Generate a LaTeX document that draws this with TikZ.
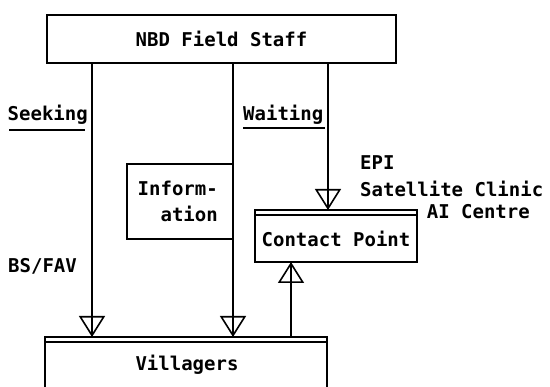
\documentclass[tikz,border=0pt]{standalone}
\usepackage{fontspec}
\setmainfont{DejaVu Sans Mono}
\usetikzlibrary{arrows.meta}
\begin{document}
\begin{tikzpicture}[x=1pt,y=-1pt,
  every node/.style={font=\fontsize{19}{22}\selectfont\bfseries, inner sep=0pt},
  boxnode/.style={draw, line width=1.6pt, rectangle},
  wire/.style={line width=1.6pt},
  tipped/.style={line width=1.6pt, -{Triangle[open, width=26pt, length=21pt, line width=1.6pt]}},
]
\useasboundingbox (0,0) rectangle (550,387);
% boxes
\node[boxnode, minimum width=349pt, minimum height=48pt] (top) at (221.5,39) {NBD Field Staff};
\node[boxnode, minimum width=106pt, minimum height=75pt] (info) at (180,201.5) {};
\node[anchor=east, align=right] (infotxt) at (218,201.5) {Inform-\\[4pt]ation};
\node[boxnode, minimum width=162pt, minimum height=52pt] (contact) at (336,236) {};
\node (contacttxt) at (336,239) {Contact Point};
\node[boxnode, minimum width=282pt, minimum height=58pt] (vill) at (186,366) {};
\node (villtxt) at (187,365) {Villagers};
% double top lines
\draw[wire] ([yshift=-6pt]contact.north west) -- ([yshift=-6pt]contact.north east);
\draw[wire] ([yshift=-6pt]vill.north west) -- ([yshift=-6pt]vill.north east);
% coordinates
\coordinate (l1) at (92,63);
\coordinate (l2) at (233,63);
\coordinate (l3) at (328,63);
\coordinate (l1e) at (92,337);
\coordinate (l2e) at (233,337);
\coordinate (l3e) at (328,210);
\coordinate (u1) at (291,337);
\coordinate (u1e) at (291,262);
% connectors
\draw[wire] (l1) -- (l1e);
\draw[tipped] (l1) -- (l1e);
\draw[wire] (l2) -- (l2e);
\draw[tipped] (l2) -- (l2e);
\draw[wire] (l3) -- (l3e);
\draw[tipped] (l3) -- (l3e);
\draw[wire] (u1) -- (u1e);
\draw[tipped] (u1) -- (u1e);
% labels
\node[anchor=east] (seek) at (88,115) {Seeking};
\draw[wire] (9,130) -- (85,130);
\node[anchor=west] (wait) at (243,115) {Waiting};
\draw[wire] (243,128) -- (325,128);
\node[anchor=west] (bsfav) at (8,266) {BS/FAV};
\node[anchor=west] (epi) at (360,163) {EPI};
\node[anchor=west] (sat) at (360,189) {Satellite Clinic};
\node[anchor=east] (ai) at (530,212) {AI Centre};
\end{tikzpicture}
\end{document}
